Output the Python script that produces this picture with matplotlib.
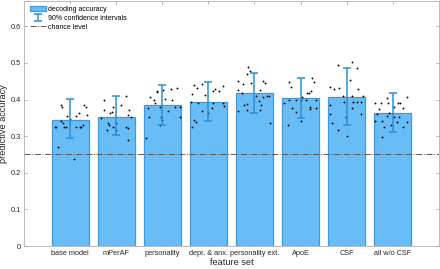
import matplotlib
matplotlib.use('Agg')
import numpy as np
from matplotlib import pyplot as plt

plt.rcParams['font.family'] = ['Liberation Sans', 'DejaVu Sans']

# feature sets and mean decoding accuracy
categories = ['base model', 'mPerAF', 'personality', 'depr. & anx.',
              'personality ext.', 'ApoE', 'CSF', 'all w/o CSF']
accuracy = [0.345, 0.353, 0.384, 0.393, 0.417, 0.404, 0.407, 0.363]
# 90% confidence intervals (lower, upper)
ci_low = [0.295, 0.302, 0.331, 0.341, 0.362, 0.350, 0.331, 0.312]
ci_high = [0.401, 0.409, 0.439, 0.449, 0.471, 0.459, 0.487, 0.419]
chance = 0.25

# single runs: horizontal jitter (in category units) and accuracy
runs_dx = [
    [-0.21, -0.17, -0.06, 0.12, 0.30, 0.35, 0.18, -0.21, -0.15, -0.13, -0.32,
     -0.10, 0.12, 0.21, 0.24, -0.26, 0.08, -0.33, 0.37, 0.0, 0.28],
    [-0.26, 0.21, -0.08, -0.14, -0.09, 0.28, 0.25, 0.32, -0.33, -0.18, -0.15,
     -0.08, -0.20, -0.01, 0.21, 0.25, -0.26, 0.0, 0.25, 0.10],
    [-0.27, -0.12, 0.02, 0.18, 0.32, -0.18, 0.05, 0.21, -0.15, -0.31, -0.05,
     0.28, 0.38, -0.28, -0.04, 0.0, 0.38, -0.05, -0.36, -0.11, 0.13],
    [-0.31, -0.25, -0.14, 0.09, 0.14, 0.22, 0.32, -0.36, -0.07, -0.37, -0.22,
     0.11, 0.31, 0.34, -0.14, 0.0, 0.07, -0.32, -0.26, -0.36],
    [-0.14, -0.10, -0.17, -0.35, -0.25, -0.07, 0.18, 0.22, -0.35, 0.13, -0.28,
     0.04, 0.18, 0.27, 0.31, 0.10, -0.23, -0.17, 0.15, -0.35, -0.16, 0.13, 0.34],
    [-0.26, -0.21, 0.26, 0.29, 0.19, 0.22, 0.13, 0.03, -0.24, -0.10, 0.01,
     0.12, 0.33, -0.35, -0.18, 0.20, 0.20, 0.33, -0.28, 0.01, -0.09],
    [-0.19, 0.12, 0.23, 0.07, -0.37, -0.28, -0.17, 0.25, -0.08, 0.11, 0.35,
     -0.37, 0.15, 0.23, 0.31, 0.12, -0.36, 0.31, -0.31, -0.02, -0.19, 0.0, -0.06],
    [0.32, -0.13, -0.38, -0.25, -0.11, 0.11, 0.16, 0.02, 0.23, -0.29, -0.07,
     -0.34, -0.13, 0.04, 0.14, -0.38, -0.24, 0.09, 0.32, -0.18, 0.23, -0.03, -0.24],
]
runs_acc = [
    [0.385, 0.379, 0.356, 0.355, 0.385, 0.379, 0.364, 0.342, 0.335, 0.326, 0.326,
     0.326, 0.326, 0.326, 0.326, 0.271, 0.237, 0.326, 0.358, 0.348, 0.330],
    [0.399, 0.410, 0.379, 0.362, 0.367, 0.371, 0.358, 0.353, 0.349, 0.335, 0.330,
     0.326, 0.317, 0.317, 0.326, 0.290, 0.371, 0.335, 0.321, 0.385],
    [0.408, 0.421, 0.426, 0.429, 0.431, 0.399, 0.401, 0.399, 0.390, 0.378, 0.380,
     0.379, 0.380, 0.353, 0.353, 0.344, 0.351, 0.330, 0.296, 0.424, 0.370],
    [0.440, 0.432, 0.442, 0.424, 0.430, 0.424, 0.437, 0.414, 0.411, 0.394, 0.390,
     0.390, 0.390, 0.382, 0.369, 0.362, 0.376, 0.344, 0.339, 0.326],
    [0.488, 0.478, 0.469, 0.451, 0.442, 0.444, 0.451, 0.444, 0.426, 0.426, 0.417,
     0.410, 0.408, 0.410, 0.410, 0.397, 0.385, 0.387, 0.385, 0.369, 0.371, 0.371, 0.335],
    [0.449, 0.433, 0.460, 0.449, 0.419, 0.424, 0.417, 0.408, 0.399, 0.399, 0.399,
     0.399, 0.399, 0.390, 0.376, 0.380, 0.373, 0.376, 0.330, 0.342, 0.365],
    [0.494, 0.503, 0.487, 0.452, 0.435, 0.428, 0.432, 0.428, 0.410, 0.410, 0.410,
     0.385, 0.394, 0.394, 0.394, 0.376, 0.360, 0.360, 0.335, 0.351, 0.317, 0.301, 0.394],
    [0.406, 0.405, 0.390, 0.390, 0.391, 0.390, 0.390, 0.379, 0.378, 0.373, 0.364,
     0.360, 0.355, 0.351, 0.351, 0.341, 0.342, 0.339, 0.340, 0.326, 0.326, 0.330, 0.297],
]

bar_face = '#69bdf6'
bar_edge = '#3c9be0'
err_col = '#2b8fd6'
text_col = '#262626'

fig = plt.figure(figsize=(4.4, 2.69), dpi=100)
ax = fig.add_axes([0.055, 0.085, 0.942, 0.913])

x = np.arange(1, len(categories) + 1)
h_bar = ax.bar(x, accuracy, width=0.8, color=bar_face, edgecolor=bar_edge,
               linewidth=0.9, zorder=2)

for i in range(len(categories)):
    ax.scatter(x[i] + np.array(runs_dx[i]), runs_acc[i], s=1.8, color='k',
               linewidths=0, zorder=3)

acc = np.array(accuracy)
yerr = np.vstack([acc - np.array(ci_low), np.array(ci_high) - acc])
h_err = ax.errorbar(x, acc, yerr=yerr, fmt='none', ecolor=err_col,
                    elinewidth=1.1, capsize=3, capthick=1.1, zorder=4)

h_ch = ax.axhline(chance, color='#5a5a5a', linestyle='-.', linewidth=0.7,
                  zorder=3)

ax.set_xlim(0, 9)
ax.set_ylim(0, 0.67)
ax.set_xticks(x)
ax.set_xticklabels(categories)
ax.set_yticks([0, 0.1, 0.2, 0.3, 0.4, 0.5, 0.6])
ax.set_yticklabels(['0', '0.1', '0.2', '0.3', '0.4', '0.5', '0.6'])
ax.tick_params(direction='in', length=2.5, width=0.5, color='#9a9a9a',
               labelsize=5.3, labelcolor=text_col, top=True, right=True, pad=2.5)
for sp in ax.spines.values():
    sp.set_color('#b0b0b0')
    sp.set_linewidth(0.6)

ax.set_xlabel('feature set', fontsize=6.6, color=text_col, labelpad=1)
ax.set_ylabel('predictive accuracy', fontsize=6.6, color=text_col, labelpad=2)

ax.legend([h_bar, h_err, h_ch],
          ['decoding accuracy', '90% confidence intervals', 'chance level'],
          loc='upper left', fontsize=5.0, frameon=False, handlelength=2.3,
          handletextpad=0.3, labelspacing=0.25, borderaxespad=0.4,
          bbox_to_anchor=(0.0, 1.0))

fig.savefig('out.png', dpi=100)
